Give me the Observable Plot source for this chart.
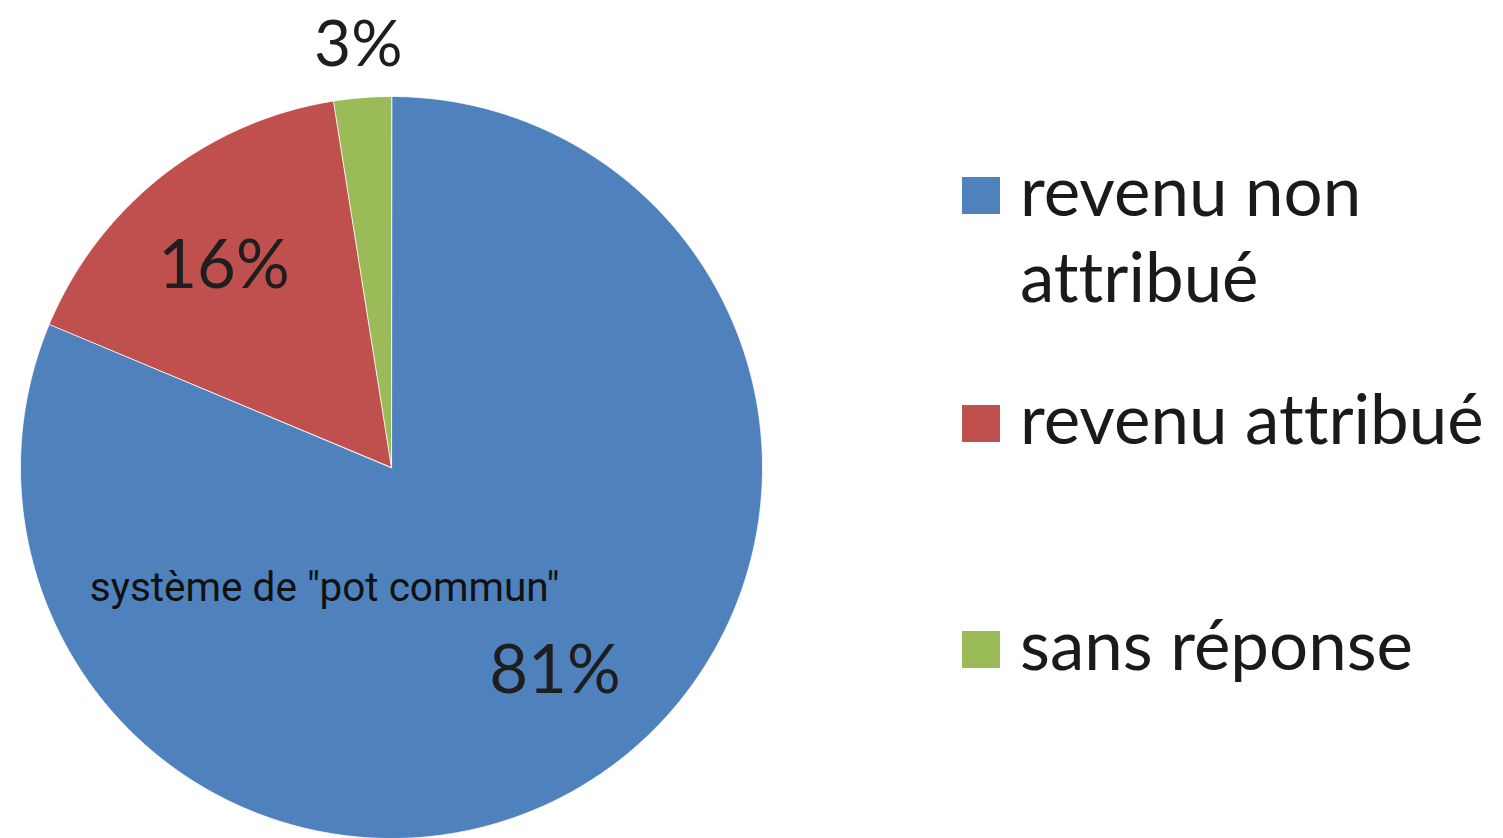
<!DOCTYPE html>
<html>
<head>
<meta charset="utf-8">
<script src="https://cdn.jsdelivr.net/npm/d3@7"></script>
<script src="https://cdn.jsdelivr.net/npm/@observablehq/plot@0.6"></script>
<style>
  html, body { margin: 0; padding: 0; background: #fff; }
  #wrap { position: relative; width: 1503px; height: 838px; overflow: hidden; }
  #legend { position: absolute; left: 962px; top: 0; width: 541px; height: 838px; font-family: Lato, "Open Sans", sans-serif; color: #1a1a1a; font-variant-ligatures: none; font-feature-settings: "liga" 0, "clig" 0; }
  .item { position: absolute; left: 0; display: flex; align-items: flex-start; }
  .sw { width: 38px; height: 37px; margin-top: 16px; flex: none; }
  .lab { margin-left: 20px; width: 485px; font-size: 69px; line-height: 86px; margin-top: -14px; }
</style>
</head>
<body>
<div id="wrap"></div>
<script>
// ---- data ----
const categories = ["revenu non attribué", "revenu attribué", "sans réponse"];
const values = [81.3, 16.2, 2.5];
const labels = ["81%", "16%", "3%"];
const colors = ["#4F81BD", "#C0504D", "#9BBB59"];
const annotation = ['système de "pot commun"'];

// ---- build slices ----
const rows = categories.map((c, i) => ({cat: c, value: values[i], label: labels[i]}));
const arcs = d3.pie().sort(null).value(d => d.value).startAngle(0).endAngle(2 * Math.PI)(rows);

const points = [];
for (const a of arcs) {
  const cat = a.data.cat;
  points.push({cat, x: 0, y: 0});
  const n = Math.max(4, Math.ceil((a.endAngle - a.startAngle) / (Math.PI / 360)));
  for (let k = 0; k <= n; k++) {
    const t = a.startAngle + (a.endAngle - a.startAngle) * k / n;
    points.push({cat, x: Math.sin(t), y: Math.cos(t)});
  }
}

const total = d3.sum(values);
const labelPts = arcs.map((a, i) => {
  let mid = (a.startAngle + a.endAngle) / 2;
  const share = a.data.value / total;
  const outside = share < 0.05;
  const r = outside ? 1.14 : 0.705;
  if (share > 0.5) mid -= 5 * Math.PI / 180;      // best-fit nudge away from the note
  else if (!outside) mid -= 1.7 * Math.PI / 180;
  return {text: a.data.label, x: Math.sin(mid) * r, y: Math.cos(mid) * r, outside};
});

const chart = Plot.plot({
  width: 1503,
  height: 838,
  margin: 0,
  x: {domain: [-1, 1], range: [20, 762], axis: null},
  y: {domain: [-1, 1], range: [838, 96], axis: null},
  color: {domain: categories, range: colors},
  style: {background: "transparent"},
  marks: [
    Plot.line(points, {x: "x", y: "y", z: "cat", fill: "cat", stroke: "white", strokeWidth: 1, strokeOpacity: 0.8, curve: "linear-closed"}),
    Plot.text(labelPts.filter(d => !d.outside), {x: "x", y: "y", text: "text", fontSize: 67, fill: "#1e1e1e", fontFamily: "Lato, 'Open Sans', sans-serif"}),
    Plot.text(labelPts.filter(d => d.outside), {x: "x", y: "y", text: "text", fontSize: 64, fill: "#1e1e1e", fontFamily: "Lato, 'Open Sans', sans-serif"}),
    Plot.text(annotation, {x: -0.18, y: -0.325, text: d => d, fontSize: 40.5, fill: "#111", fontFamily: "'Liberation Sans Narrow', 'Roboto', sans-serif"})
  ]
});

const wrap = document.getElementById("wrap");
wrap.appendChild(chart);

// ---- legend ----
const legend = document.createElement("div");
legend.id = "legend";
const tops = [177, 405, 631];
categories.forEach((c, i) => {
  const it = document.createElement("div");
  it.className = "item";
  it.style.top = (tops[i] - 16) + "px";
  const sw = document.createElement("div");
  sw.className = "sw";
  sw.style.background = colors[i];
  const lab = document.createElement("div");
  lab.className = "lab";
  lab.textContent = c;
  it.appendChild(sw);
  it.appendChild(lab);
  legend.appendChild(it);
});
wrap.appendChild(legend);
</script>
</body>
</html>
